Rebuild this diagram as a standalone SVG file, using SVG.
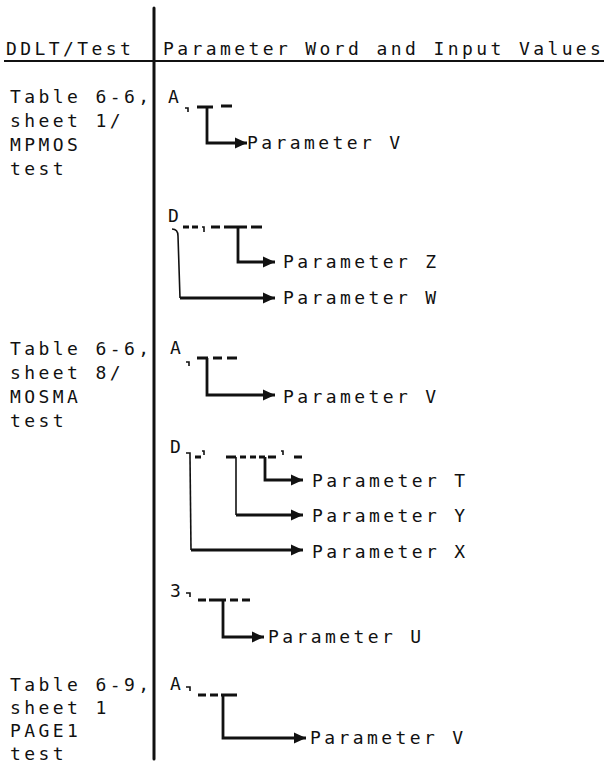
<svg xmlns="http://www.w3.org/2000/svg" width="609" height="765" viewBox="0 0 609 765">
<style>
text{font-family:"DejaVu Sans Mono","Liberation Mono",monospace;font-size:18px;letter-spacing:3.4px;fill:#111}
.ln{fill:none;stroke:#111;stroke-width:2.8}
.th{fill:none;stroke:#111;stroke-width:1.6}
.ar{fill:none;stroke:#111;stroke-width:2.8;marker-end:url(#ah)}
</style>
<defs>
<marker id="ah" markerUnits="userSpaceOnUse" markerWidth="13" markerHeight="13" refX="12" refY="6.5" orient="auto">
<path d="M0,1 L12,6.5 L0,12 Z" fill="#111"/>
</marker>
</defs>
<rect width="609" height="765" fill="#fff"/>
<g id="frame">
<line x1="154" y1="8" x2="154" y2="759" stroke="#111" stroke-width="3" stroke-linecap="round"/>
<line x1="4" y1="61" x2="604" y2="61" stroke="#111" stroke-width="2"/>
</g>
<g id="header">
<text x="6" y="55">DDLT/Test</text>
<text x="163" y="55">Parameter Word and Input Values</text>
</g>
<g id="test1"><text x="10" y="103">Table 6-6,</text><text x="10" y="127">sheet 1/</text><text x="10" y="151">MPMOS</text><text x="10" y="175">test</text></g>
<g id="test2"><text x="10" y="355">Table 6-6,</text><text x="10" y="379">sheet 8/</text><text x="10" y="403">MOSMA</text><text x="10" y="427">test</text></g>
<g id="test3"><text x="10" y="691">Table 6-9,</text><text x="10" y="714">sheet 1</text><text x="10" y="737">PAGE1</text><text x="10" y="760">test</text></g>
<g id="word1A"><text x="168" y="103">A</text></g>
<g id="word1D"><text x="168" y="222">D</text></g>
<g id="word2A"><text x="170" y="354">A</text></g>
<g id="word2D"><text x="170" y="453">D</text></g>
<g id="word23"><text x="170" y="597">3</text></g>
<g id="word3A"><text x="170" y="690">A</text></g>
<g id="p1V"><text x="247" y="149">Parameter V</text></g>
<g id="p1Z"><text x="283" y="268">Parameter Z</text></g>
<g id="p1W"><text x="283" y="304">Parameter W</text></g>
<g id="p2V"><text x="283" y="403">Parameter V</text></g>
<g id="p2T"><text x="312" y="487">Parameter T</text></g>
<g id="p2Y"><text x="312" y="522">Parameter Y</text></g>
<g id="p2X"><text x="312" y="558">Parameter X</text></g>
<g id="p2U"><text x="268" y="643">Parameter U</text></g>
<g id="p3V"><text x="310" y="744">Parameter V</text></g>
<g id="connectors">
<path class="th" d="M185,108 h3 v4"/>
<path class="ln" d="M197,107 H213 M221,106 H232"/>
<path class="ar" d="M207,107 V143 H247"/>
<path class="ln" d="M183,227 H189 M192,227 H198 M211,227 H220 M224,227 H247 M251,227 H262"/>
<path class="th" d="M202,227 h2 v5"/>
<path class="ar" d="M238,227 V262 H275"/>
<path class="th" d="M172,229 Q178,229 178,236 L180,298"/>
<path class="ar" d="M180,298 H275"/>
<path class="th" d="M186,362 h3 v4"/>
<path class="ln" d="M197,358 H208 M213,358 H222 M227,358 H237"/>
<path class="ar" d="M207,358 V395 H275"/>
<path class="th" d="M186,453 h4 v4 M202,451 h2 v4 M281,451 h2 v4"/>
<path class="ln" d="M195,457 H201 M226,457 H236 M240,457 H246 M250,457 H256 M259,457 H265 M268,457 H276 M294,457 H302"/>
<path class="ar" d="M265,457 V480 H303"/>
<path class="th" d="M236,457 V515"/>
<path class="ar" d="M236,515 H303"/>
<path class="th" d="M190,457 L191,550"/>
<path class="ar" d="M191,550 H303"/>
<path class="th" d="M186,593 h4 v4"/>
<path class="ln" d="M198,600 H206 M209,600 H226 M230,600 H238 M242,600 H250"/>
<path class="ar" d="M223,600 V637 H264"/>
<path class="th" d="M186,687 h4 v4"/>
<path class="ln" d="M198,695 H206 M210,695 H218 M221,695 H237"/>
<path class="ar" d="M223,695 V738 H306"/>
</g>
</svg>
